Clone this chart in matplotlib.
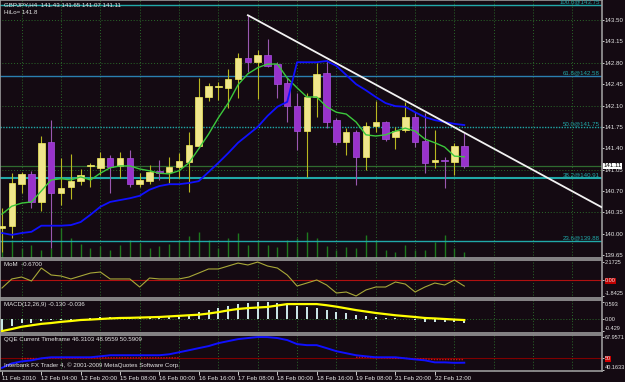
import numpy as np
import matplotlib.pyplot as plt
import matplotlib.transforms as mtransforms
from matplotlib.patches import Rectangle

# GBPJPY H4, 11-22 Feb 2010
opens = [140.09, 140.13, 140.81, 140.98, 140.52, 141.50, 140.67, 140.76, 140.86, 141.11,
         141.08, 141.24, 141.11, 141.24, 140.81, 140.86, 141.03, 141.01, 141.09, 141.17,
         141.44, 142.24, 142.40, 142.39, 142.53, 142.88, 142.81, 142.93, 142.78, 142.47,
         142.09, 141.68, 142.24, 142.63, 141.86, 141.50, 141.67, 141.26, 141.76, 141.83,
         141.58, 141.70, 141.91, 141.52, 141.17, 141.21, 141.17, 141.43]
highs = [140.42, 141.00, 141.01, 141.03, 141.60, 141.86, 141.24, 141.31, 141.06, 141.16,
         141.34, 141.29, 141.34, 141.37, 141.00, 141.13, 141.21, 141.26, 141.32, 141.67,
         142.55, 142.47, 142.48, 142.70, 142.96, 143.58, 143.01, 143.19, 142.81, 142.55,
         142.31, 142.31, 142.80, 142.85, 141.90, 141.73, 141.70, 141.83, 142.17, 141.85,
         141.75, 142.16, 141.99, 141.98, 141.70, 141.26, 141.49, 141.65]
lows = [139.70, 139.93, 140.67, 140.42, 140.37, 139.76, 140.47, 140.57, 140.80, 140.76,
        140.96, 140.67, 140.91, 140.76, 140.76, 140.81, 140.88, 140.83, 140.91, 140.68,
        141.42, 142.17, 142.19, 142.06, 142.22, 142.65, 142.21, 142.73, 142.22, 141.83,
        141.37, 140.93, 141.91, 141.73, 141.45, 141.29, 140.80, 141.04, 141.67, 141.52,
        141.39, 141.67, 141.42, 140.99, 141.08, 140.75, 140.96, 141.07]
closes = [140.13, 140.83, 140.98, 140.52, 141.49, 140.67, 140.75, 140.86, 140.96, 141.12,
          141.24, 141.09, 141.24, 140.81, 140.88, 141.01, 140.99, 141.09, 141.19, 141.45,
          142.24, 142.42, 142.42, 142.53, 142.88, 142.81, 142.93, 142.75, 142.45, 142.09,
          141.68, 142.24, 142.62, 141.83, 141.50, 141.67, 141.26, 141.76, 141.83, 141.55,
          141.68, 141.91, 141.50, 141.16, 141.21, 141.19, 141.44, 141.11]

ma_fast = [140.32, 140.45, 140.50, 140.52, 140.70, 140.88, 140.90, 140.88, 140.93, 140.88,
           140.99, 141.08, 141.11, 141.11, 141.06, 141.03, 140.99, 140.98, 141.03, 141.16,
           141.39, 141.63, 141.90, 142.14, 142.44, 142.62, 142.72, 142.78, 142.78, 142.55,
           142.39, 142.24, 142.24, 142.08, 141.99, 141.96, 141.83, 141.62, 141.60, 141.62,
           141.68, 141.73, 141.68, 141.55, 141.49, 141.42, 141.27, 141.26]
ma_slow = [140.01, 139.98, 140.01, 140.03, 140.13, 140.13, 140.13, 140.14, 140.19, 140.31,
           140.44, 140.52, 140.55, 140.58, 140.62, 140.72, 140.78, 140.81, 140.81, 140.83,
           140.86, 141.01, 141.16, 141.32, 141.49, 141.62, 141.75, 141.93, 142.08, 142.16,
           142.81, 142.81, 142.81, 142.83, 142.75, 142.60, 142.45, 142.35, 142.24, 142.14,
           142.09, 142.08, 141.99, 141.91, 141.86, 141.83, 141.80, 141.78]
volumes = [2300, 1800, 1000, 1300, 800, 1000, 3000, 2000, 1400, 1000,
           1200, 800, 1300, 1800, 1500, 1000, 1200, 1400, 1800, 2200,
           2600, 1800, 1000, 2000, 2500, 1300, 1800, 1300, 1100, 1800,
           2000, 2600, 2000, 1200, 800, 1100, 1000, 2300, 1800, 800,
           600, 1300, 800, 800, 1600, 2300, 1000, 600]

mom = [-0.90, 0.17, 0.40, -0.07, 1.46, 0.64, 0.52, 0.17, 0.52, 0.87,
       0.99, 0.17, 0.17, 0.17, -0.78, 0.28, 0.17, 0.17, 0.17, 0.40,
       0.87, 1.35, 1.35, 1.70, 2.05, 1.82, 2.17, 1.70, 1.46, 0.64,
       -0.66, -0.31, 0.05, -0.54, -1.49, -1.37, -1.84, -1.13, -0.78, -0.78,
       -0.19, -0.43, -1.37, -0.78, -0.31, -0.54, 0.05, -0.67]
macd_main = [-0.43, -0.24, -0.14, -0.14, -0.07, -0.035, -0.035, -0.035, -0.01, 0.035,
             0.07, 0.07, 0.07, 0.07, 0.05, 0.07, 0.07, 0.07, 0.07, 0.14,
             0.24, 0.31, 0.38, 0.45, 0.52, 0.56, 0.593, 0.59, 0.56, 0.52,
             0.45, 0.42, 0.38, 0.31, 0.24, 0.21, 0.14, 0.10, 0.07, 0.035,
             0.035, -0.01, -0.035, -0.09, -0.11, -0.12, -0.12, -0.13]
macd_signal = [-0.42, -0.35, -0.27, -0.22, -0.17, -0.14, -0.10, -0.07, -0.035, -0.02,
               0.0, 0.02, 0.035, 0.04, 0.05, 0.06, 0.07, 0.09, 0.11, 0.13,
               0.15, 0.19, 0.24, 0.30, 0.35, 0.38, 0.40, 0.42, 0.47, 0.52,
               0.52, 0.52, 0.52, 0.48, 0.43, 0.37, 0.31, 0.26, 0.21, 0.17,
               0.13, 0.10, 0.07, 0.035, 0.02, 0.0, -0.02, -0.036]
qqe_rsi = [42.0, 45.7, 47.4, 48.3, 50.0, 50.9, 50.9, 50.9, 50.9, 50.9,
           51.7, 52.6, 52.6, 52.6, 52.6, 52.6, 52.6, 53.4, 55.1, 56.8,
           58.6, 60.3, 62.8, 64.5, 66.2, 67.1, 67.96, 67.9, 67.1, 65.4,
           62.0, 61.1, 61.1, 58.6, 56.0, 54.3, 52.6, 51.7, 50.9, 50.9,
           50.9, 50.0, 49.1, 48.3, 46.6, 46.6, 46.2, 46.31]
qqe_trail = [np.nan, np.nan, 49.8, 49.8, 49.8, 50.4, 50.4, 50.4, 50.4, 50.4,
             50.4, 50.4, 50.4, 50.4, 50.4, 50.4, 50.4, 50.4, 50.4, np.nan,
             np.nan, np.nan, np.nan, np.nan, np.nan, np.nan, np.nan, np.nan, np.nan, np.nan,
             np.nan, np.nan, np.nan, np.nan, np.nan, np.nan, 50.9, 50.9, 50.5, 50.5,
             50.0, 50.0, 49.5, 49.5, 49.0, 49.0, 49.0, 48.96]

fib_prices = [143.75, 142.58, 141.75, 140.91, 139.88]
fib_labels = ['100.0@143.75', '61.8@142.58', '50.0@141.75', '38.2@140.91', '23.6@139.88']
price_ticks = [143.50, 143.15, 142.80, 142.45, 142.10, 141.75, 141.40,
               141.05, 140.70, 140.35, 140.00, 139.65]
grid_prices = [143.50, 142.80, 142.10, 141.05, 140.35]
trend_x = [25, 61]
trend_y = [143.58, 140.43]
date_bars = [0, 4, 8, 12, 16, 20, 24, 28, 32, 36, 40, 44]
date_labels = ['11 Feb 2010', '12 Feb 04:00', '12 Feb 20:00', '15 Feb 08:00',
               '16 Feb 00:00', '16 Feb 16:00', '17 Feb 08:00', '18 Feb 00:00',
               '18 Feb 16:00', '19 Feb 08:00', '21 Feb 20:00', '22 Feb 12:00']
grid_bars = list(range(2, 61, 4))

plt.rcParams['font.family'] = ['Liberation Sans', 'DejaVu Sans']
bg = '#140a12'
fg = '#e6e6e6'
grid_c = '#2a6a2a'
teal = '#20a8a8'
fs = 4.4
fs_small = 4.0

fig = plt.figure(figsize=(6.25, 3.82), dpi=100, facecolor=bg)
W, H = 625.0, 382.0
n = len(opens)
x = np.arange(n)


def panel(y0, y1, lsize=fs):
    ax = fig.add_axes([0, 1 - y1 / H, 602 / W, (y1 - y0) / H])
    ax.set_facecolor(bg)
    for s in ax.spines.values():
        s.set_color('#9a9a9a')
        s.set_linewidth(1.2)
    ax.set_xlim(-0.2, 61.0)
    ax.tick_params(axis='x', bottom=False, labelbottom=False)
    ax.yaxis.tick_right()
    ax.tick_params(axis='y', colors=fg, labelsize=lsize, length=1.5, pad=0.6, width=0.6)
    ax.vlines(grid_bars, 0, 1, transform=ax.get_xaxis_transform(), colors=grid_c,
              linestyles=(0, (1, 2)), lw=0.7, zorder=0)
    return ax


# ---- main price window
ax = panel(0, 258)
vax = ax.twinx()
vax.set_zorder(ax.get_zorder() - 1)
ax.patch.set_visible(False)
vax.set_facecolor(bg)
vax.set_ylim(0, 25800)
vax.set_yticks([])
for s in vax.spines.values():
    s.set_visible(False)
vax.vlines(x, 0, volumes, color='#1d7a1d', lw=1.0)

ax.yaxis.tick_right()
ax.set_ylim(143.83 - 258 / 61, 143.83)
ax.set_yticks(price_ticks)
ax.set_yticklabels(['%.2f' % p for p in price_ticks])

ax.hlines(grid_prices, -1, 62, colors=grid_c, linestyles=(0, (1, 2)), lw=0.7, zorder=0)
for p, lab in zip(fib_prices, fib_labels):
    ls = (0, (1, 1)) if lab.startswith('50.0') else '-'
    lw = 1.5 if lab.startswith('38.2') else 1.0
    col = '#2a7fb0' if lab.startswith('61.8') else teal
    ax.axhline(p, color=col, lw=lw, ls=ls, zorder=1)
    ax.text(60.8, p + 0.01, lab, color=teal, fontsize=fs, ha='right', va='bottom', clip_on=True)
ax.axhline(closes[-1], color='#2f6a2f', lw=0.9, zorder=1)

for i in range(n):
    up = closes[i] >= opens[i]
    ax.vlines(i, lows[i], highs[i], color='#b8b820' if up else '#9a58b0', lw=0.8, zorder=3)
    lo, hi = min(opens[i], closes[i]), max(opens[i], closes[i])
    ax.add_patch(Rectangle((i - 0.33, lo), 0.66, max(hi - lo, 0.02),
                           facecolor='#f0e68c' if up else '#9932cc',
                           edgecolor='#f5f060' if up else '#a850e0', lw=0.5, zorder=4))

ax.plot(x, ma_fast, color='#3cc83c', lw=1.0, zorder=5)
ax.plot(x, ma_slow, color='#1010ff', lw=1.3, zorder=5)
ax.plot(trend_x, trend_y, color='#f2f2f2', lw=1.3, zorder=6)

tr = mtransforms.blended_transform_factory(ax.transAxes, ax.transData)
ax.text(1.003, closes[-1], '%.2f' % closes[-1], transform=tr, fontsize=fs, color='black',
        ha='left', va='center', clip_on=False, zorder=10,
        bbox=dict(facecolor='white', edgecolor='none', pad=0.3))
ax.text(0.007, 1 - 2 / 258, 'GBPJPY,H4  141.43 141.65 141.07 141.11', transform=ax.transAxes,
        color=fg, fontsize=fs, va='top', ha='left')
ax.text(0.007, 1 - 10 / 258, 'HiLo= 141.8', transform=ax.transAxes,
        color=fg, fontsize=fs, va='top', ha='left')

# ---- MoM window
ax1 = panel(260, 297.5, fs_small)
ax1.set_ylim(-2.02, 2.41)
ax1.axhline(0, color='#b01010', lw=0.8)
ax1.plot(x, mom, color='#a8a838', lw=0.8)
ax1.set_yticks([2.1725, 0, -1.8425])
ax1.set_yticklabels(['2.1725', '0.00', '-1.8425'])
ax1.get_yticklabels()[1].set_bbox(dict(facecolor='#c00000', edgecolor='none', pad=0.3))
ax1.get_yticklabels()[2].set_va('bottom')
ax1.text(0.007, 1 - 2 / 37.5, 'MoM  -0.6700', transform=ax1.transAxes,
         color=fg, fontsize=fs, va='top')

# ---- MACD window
ax2 = panel(300, 333, fs_small)
ax2.set_ylim(-0.488, 0.662)
ax2.axhline(0, color=grid_c, lw=0.7, ls=(0, (1, 2)))
ax2.vlines(x, 0, macd_main, color='#cfeaea', lw=1.4)
ax2.plot(x, macd_signal, color='#ffff00', lw=1.6)
ax2.set_yticks([0.593, 0, -0.429])
ax2.set_yticklabels(['0.593', '0.00', '-0.429'])
ax2.get_yticklabels()[0].set_va('top')
ax2.get_yticklabels()[2].set_va('bottom')
ax2.text(0.007, 1 - 2 / 33, 'MACD(12,26,9) -0.130 -0.036', transform=ax2.transAxes,
         color=fg, fontsize=fs, va='top')

# ---- QQE window
ax3 = panel(335, 370.5, fs_small)
ax3.set_ylim(39.74, 69.67)
ax3.axhline(50, color='#800000', lw=0.8)
ax3.plot(x, qqe_trail, color='#d01010', lw=1.0, ls=(0, (1, 1)))
ax3.plot(x, qqe_rsi, color='#1010ff', lw=1.4)
ax3.set_yticks([67.9571, 50, 40.1633])
ax3.set_yticklabels(['67.9571', '50', '40.1633'])
ax3.get_yticklabels()[1].set_bbox(dict(facecolor='#d00000', edgecolor='none', pad=0.3))
ax3.get_yticklabels()[2].set_va('bottom')
ax3.text(0.007, 1 - 2 / 35.5, 'QQE Current Timeframe 46.3103 48.9559 50.5909',
         transform=ax3.transAxes, color=fg, fontsize=fs, va='top')
ax3.text(0.007, 2 / 35.5, 'Interbank FX Trader 4, \u00a9 2001-2009 MetaQuotes Software Corp.',
         transform=ax3.transAxes, color=fg, fontsize=fs, va='bottom')
ax3.set_xticks(date_bars)
ax3.set_xticklabels(date_labels, ha='left')
ax3.tick_params(axis='x', bottom=True, labelbottom=True, colors=fg, labelsize=fs,
                length=3, pad=1, width=0.6)

fig.savefig('out.png', dpi=100, facecolor=bg)
